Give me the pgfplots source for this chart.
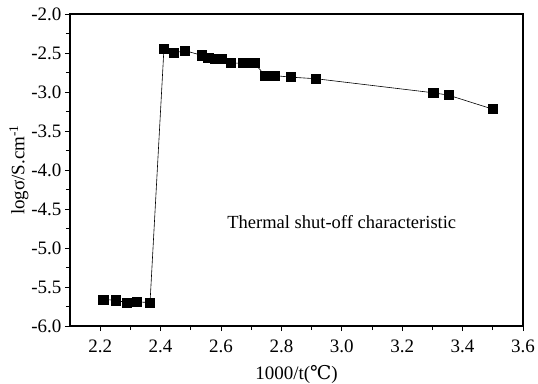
\documentclass[border=0pt]{standalone}
\usepackage{fontspec}
\setmainfont{Liberation Serif}
\newfontfamily\dejavu{DejaVu Serif}
\usepackage{pgfplots}
\pgfplotsset{compat=1.18}
\begin{document}
\begin{tikzpicture}
\path[use as bounding box] (-70pt,-57pt) rectangle (468pt,326pt);
\begin{axis}[
  at={(0pt,0pt)}, anchor=south west,
  scale only axis, width=453pt, height=312pt,
  xmin=2.1, xmax=3.6, ymin=-6.0, ymax=-2.0,
  xtick={2.2,2.4,...,3.6}, ytick={-6.0,-5.5,...,-2.0},
  minor x tick num=1, minor y tick num=1,
  tick align=outside,
  major tick length=5pt, minor tick length=4pt,
  xtick pos=bottom, ytick pos=left,
  axis line style={line width=1.1pt},
  tick style={line width=0.8pt, black},
  /pgf/number format/assume math mode=true,
  /pgf/number format/fixed, /pgf/number format/fixed zerofill,
  /pgf/number format/precision=1,
  tick label style={font=\fontsize{19}{22}\selectfont},
  xticklabel style={yshift=-5pt},
  xlabel={1000/t({\dejavu ℃})},
  ylabel={logσ/S.cm\textsuperscript{-1}},
  label style={font=\fontsize{19}{22}\selectfont},
  xlabel style={yshift=-6pt},
  ylabel style={yshift=-4pt},
]
\addplot[black, line width=0.6pt, mark=square*, mark size=4.6pt, mark options={solid, fill=black}] coordinates {
(2.210,-5.66) (2.251,-5.67) (2.288,-5.70) (2.321,-5.69) (2.365,-5.70)
(2.411,-2.45) (2.444,-2.50) (2.481,-2.47) (2.536,-2.53) (2.558,-2.56)
(2.580,-2.57) (2.602,-2.57) (2.632,-2.63) (2.674,-2.63) (2.710,-2.63)
(2.747,-2.79) (2.778,-2.79) (2.832,-2.81) (2.915,-2.83)
(3.303,-3.01) (3.353,-3.04) (3.500,-3.22)
};
\node[font=\fontsize{18.5}{22}\selectfont] at (axis cs:3.0,-4.67) {Thermal shut-off characteristic};
\end{axis}
\end{tikzpicture}
\end{document}
